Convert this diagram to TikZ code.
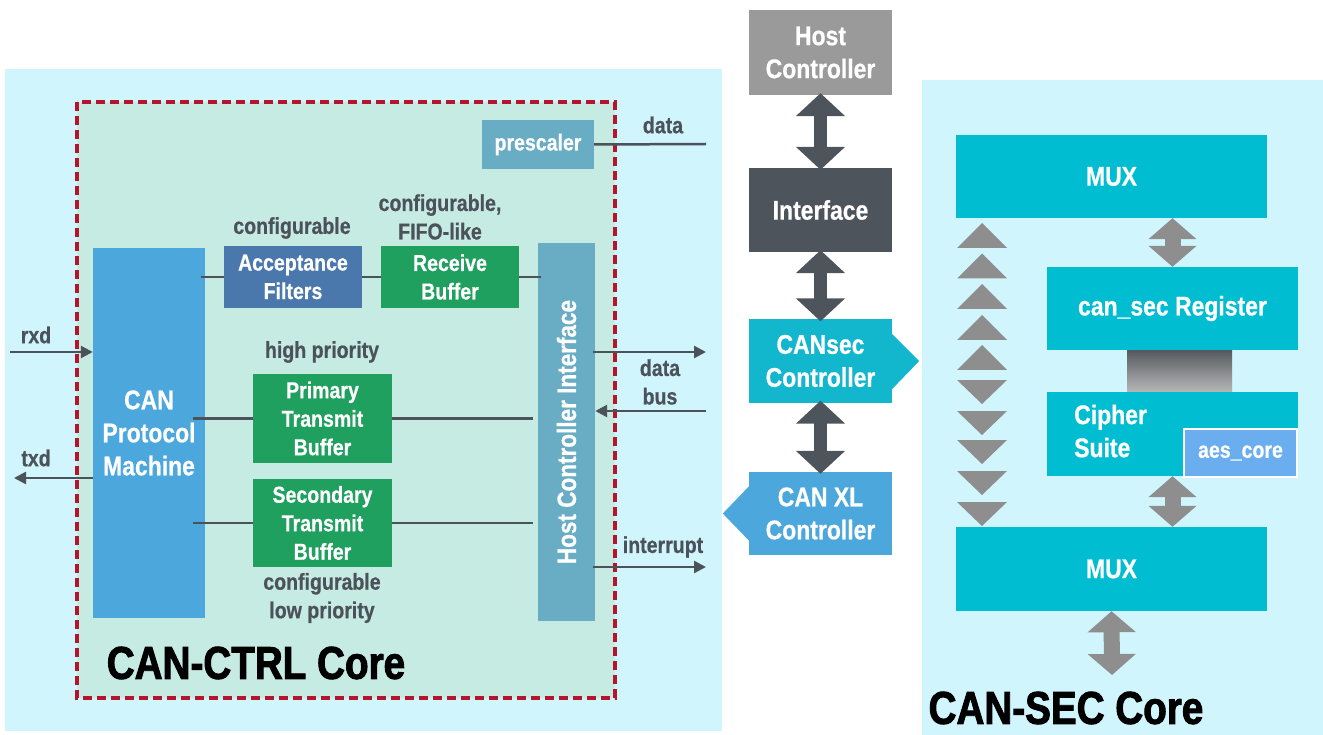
\documentclass[tikz,border=0pt]{standalone}
\usepackage{fontspec}
\setmainfont[FakeStretch=0.85, BoldFeatures={FakeBold=0.6}]{Liberation Sans}
\newfontfamily\heavy[FakeStretch=0.84, BoldFeatures={FakeBold=2}]{Liberation Sans}
\usetikzlibrary{arrows.meta,calc}
\definecolor{panel}{HTML}{D0F5FC}
\definecolor{mint}{HTML}{C6EBE3}
\definecolor{dashred}{HTML}{B5152B}
\definecolor{canblue}{HTML}{4BA7DC}
\definecolor{accblue}{HTML}{4A78AD}
\definecolor{bufgreen}{HTML}{1FA05F}
\definecolor{hciteal}{HTML}{68ADC3}
\definecolor{dk}{HTML}{4C525A}
\definecolor{hostgrey}{HTML}{9A9A9A}
\definecolor{intfgrey}{HTML}{4E545C}
\definecolor{secteal}{HTML}{12B7CE}
\definecolor{seccyan}{HTML}{00BDD1}
\definecolor{aesblue}{HTML}{6AAEF0}
\definecolor{lgrey}{HTML}{8E8E8E}
\definecolor{gdark}{HTML}{55595F}
\definecolor{glight}{HTML}{B8B8B8}
\begin{document}
\begin{tikzpicture}[x=1pt,y=-1pt,
  blk/.style={inner sep=0pt, align=center, text=white, font=\bfseries\fontsize{27}{33}\selectfont},
  sblk/.style={blk, font=\bfseries\fontsize{23}{28.5}\selectfont},
  lbl/.style={inner sep=0pt, text=dk, align=center, font=\bfseries\fontsize{23}{28.5}\selectfont},
  wire/.style={draw=dk, line width=2.5pt},
  sig/.style={wire, -{Triangle[width=12pt,length=12pt]}},
  fatdk/.style={draw=intfgrey, line width=13pt, {Triangle[width=48pt,length=23pt]}-{Triangle[width=48pt,length=23pt]}},
  fatlg/.style={draw=lgrey, line width=16pt, {Triangle[width=47pt,length=21pt]}-{Triangle[width=47pt,length=21pt]}},
  ttl/.style={inner sep=0pt, text=black, font=\heavy\bfseries\fontsize{46}{50}\selectfont},
  dashbox/.style={fill=mint, draw=dashred, line width=3.5pt, dash pattern=on 9pt off 5pt}
]
\useasboundingbox (0,0) rectangle (1323,735);
% panels
\fill[panel] (5,69) rectangle (722,731);
\fill[panel] (922,80) rectangle (1323,735);
\draw[dashbox] (77,102) rectangle (615,698);

% CAN-CTRL blocks
\node[blk, fill=canblue, minimum width=112pt, minimum height=370pt] (can) at (149,433) {CAN\\Protocol\\Machine};
\node[sblk, fill=accblue, minimum width=138pt, minimum height=62pt] (acc) at (293,277) {Acceptance\\Filters};
\node[sblk, fill=bufgreen, minimum width=138pt, minimum height=62pt] (recv) at (450,277) {Receive\\Buffer};
\node[blk, fill=hciteal, minimum width=378pt, minimum height=57pt, rotate=90, font=\bfseries\fontsize{26.5}{30}\selectfont] (hci) at (566.5,432) {Host Controller Interface};
\node[sblk, fill=hciteal, minimum width=112pt, minimum height=49pt] (pre) at (538,144.5) {prescaler};
\node[sblk, fill=bufgreen, minimum width=139pt, minimum height=89pt] (ptb) at (322.5,418.5) {Primary\\Transmit\\Buffer};
\node[sblk, fill=bufgreen, minimum width=139pt, minimum height=88pt] (stb) at (322.5,523) {Secondary\\Transmit\\Buffer};

% labels
\node[lbl] (lconf) at (292,228) {configurable};
\node[lbl] (lfifo) at (440,217) {configurable,\\FIFO-like};
\node[lbl] (lhigh) at (322,352) {high priority};
\node[lbl] (llow) at (322,598) {configurable\\low priority};
\node[lbl] (lrxd) at (36,335) {rxd};
\node[lbl] (ltxd) at (36,458) {txd};
\node[lbl] (ldata) at (663,125) {data};
\node[lbl] (ldb) at (660,382) {data\\bus};
\node[lbl] (lint) at (663,547) {interrupt};
\node[ttl] (tctrl) at (256,663) {CAN-CTRL Core};

% free ends
\coordinate (rxdin) at (10,352);
\coordinate (txdout) at (14,478);
\coordinate (dataout) at (706,144);
\coordinate (dbout) at (706,352);
\coordinate (dbin) at (706,411);
\coordinate (intout) at (706,567);

% wires
\draw[wire] ([xshift=-4pt]can.east |- acc.west) -- (acc.west);
\draw[wire] (acc.east) -- (recv.west);
\draw[wire] (recv.east) -- ([xshift=3pt]recv.east -| hci.north);
\draw[wire] ([xshift=-12pt]can.east |- ptb.west) -- (ptb.west);
\draw[wire] (ptb.east) -- ([xshift=-5pt]ptb.east -| hci.north);
\draw[wire] ([xshift=-12pt]can.east |- stb.west) -- (stb.west);
\draw[wire] (stb.east) -- ([xshift=-5pt]stb.east -| hci.north);
\draw[sig] (rxdin) -- (rxdin -| can.west);
\draw[sig] (txdout -| can.west) -- (txdout);
\draw[wire] (pre.east) -- (dataout);
\draw[sig] ([xshift=-2pt]dbout -| hci.south) -- (dbout);
\draw[sig] (dbin) -- (dbin -| hci.south);
\draw[sig] ([xshift=-2pt]intout -| hci.south) -- (intout);

% middle column
\node[blk, fill=hostgrey, minimum width=143pt, minimum height=85pt] (hc) at (820.5,52.5) {Host\\Controller};
\node[blk, fill=intfgrey, minimum width=143pt, minimum height=84pt] (intf) at (820.5,210) {Interface};
\node[blk, fill=secteal, minimum width=143pt, minimum height=83pt] (cansec) at (820.5,361) {CANsec\\Controller};
\node[blk, fill=canblue, minimum width=143pt, minimum height=83pt] (canxl) at (820.5,513.5) {CAN XL\\Controller};
\fill[secteal] ($(cansec.east)+(0,-27)$) -- ($(cansec.east)+(27,0)$) -- ($(cansec.east)+(0,28)$) -- cycle;
\fill[canblue] ($(canxl.west)+(0,-27)$) -- ($(canxl.west)+(-26,0)$) -- ($(canxl.west)+(0,27)$) -- cycle;
\draw[fatdk] ([yshift=2pt]hc.south) -- ([yshift=-2pt]intf.north);
\draw[fatdk] ([yshift=2pt]intf.south) -- ([yshift=-2pt]cansec.north);
\draw[fatdk] ([yshift=2pt]cansec.south) -- ([yshift=-2pt]canxl.north);

% CAN-SEC core
\node[blk, fill=seccyan, minimum width=311pt, minimum height=83pt] (mux1) at (1111.5,176.5) {MUX};
\node[blk, fill=seccyan, minimum width=251pt, minimum height=83pt] (reg) at (1172.5,308.5) {can\_sec Register};
\shade[top color=gdark, bottom color=glight] ($(reg.south)+(-45.5,0)$) rectangle ($(reg.south)+(59.5,42)$);
\node[blk, fill=seccyan, minimum width=251pt, minimum height=84pt] (ciph) at (1172.5,434) {};
\node[blk, anchor=west, align=left] (cipht) at (1074,431) {Cipher\\Suite};
\node[sblk, fill=aesblue, draw=white, line width=1.5pt, minimum width=113pt, minimum height=48pt] (aes) at (1240.5,453) {aes\_core};
\node[blk, fill=seccyan, minimum width=311pt, minimum height=84pt] (mux2) at (1111.5,569) {MUX};
\coordinate (secout) at (1112,675);
\draw[fatlg] (mux1.south -| reg.north) -- (reg.north);
\draw[fatlg] (ciph.south) -- (ciph.south |- mux2.north);
\draw[fatlg] (mux2.south) -- (secout);
\foreach \t in {223,253.5,284,315,345}
  \fill[lgrey] (957,\t+25) -- (982,\t) -- (1007,\t+25) -- cycle;
\foreach \t in {380,411,440,471,502}
  \fill[lgrey] (957,\t) -- (1007,\t) -- (982,\t+24) -- cycle;
\node[ttl] (tsec) at (1066,708) {CAN-SEC Core};
\end{tikzpicture}
\end{document}
